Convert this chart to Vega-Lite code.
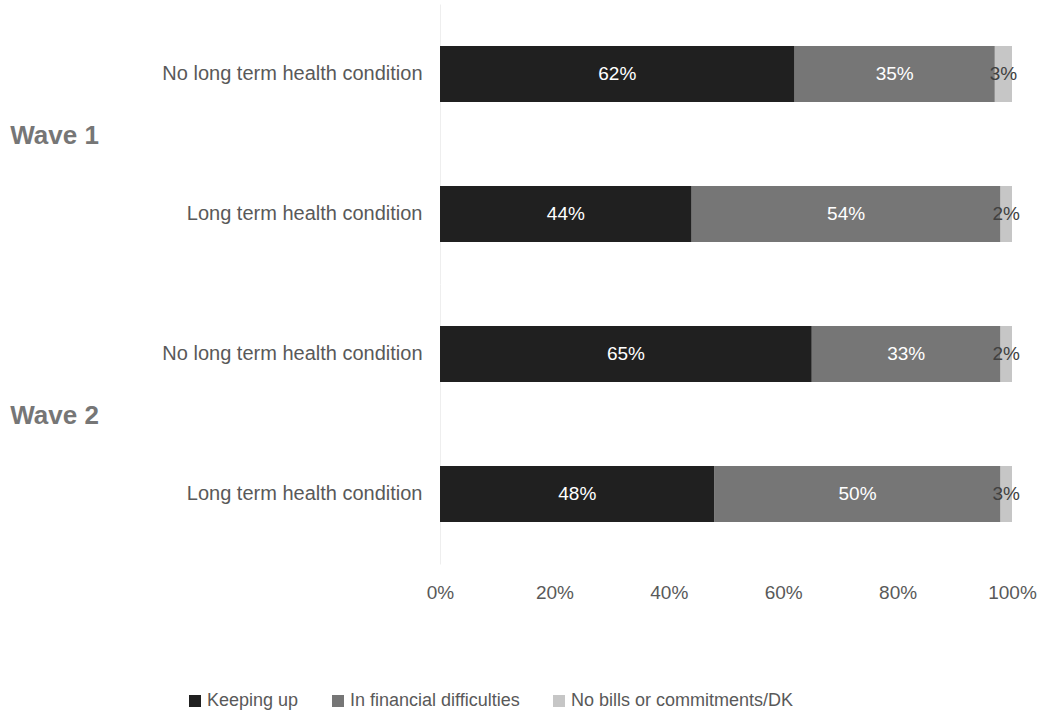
{
  "$schema": "https://vega.github.io/schema/vega-lite/v6.json",
  "padding": {"left": 10, "top": 4, "right": 4, "bottom": 4},
  "background": "white",
  "data": {
    "values": [
      {"wave": "Wave 1", "group": "No long term health condition", "cat": "Keeping up", "ord": 1, "v": 0.62, "label": "62%"},
      {"wave": "Wave 1", "group": "No long term health condition", "cat": "In financial difficulties", "ord": 2, "v": 0.35, "label": "35%"},
      {"wave": "Wave 1", "group": "No long term health condition", "cat": "No bills or commitments/DK", "ord": 3, "v": 0.03, "label": "3%"},
      {"wave": "Wave 1", "group": "Long term health condition", "cat": "Keeping up", "ord": 1, "v": 0.44, "label": "44%"},
      {"wave": "Wave 1", "group": "Long term health condition", "cat": "In financial difficulties", "ord": 2, "v": 0.54, "label": "54%"},
      {"wave": "Wave 1", "group": "Long term health condition", "cat": "No bills or commitments/DK", "ord": 3, "v": 0.02, "label": "2%"},
      {"wave": "Wave 2", "group": "No long term health condition", "cat": "Keeping up", "ord": 1, "v": 0.65, "label": "65%"},
      {"wave": "Wave 2", "group": "No long term health condition", "cat": "In financial difficulties", "ord": 2, "v": 0.33, "label": "33%"},
      {"wave": "Wave 2", "group": "No long term health condition", "cat": "No bills or commitments/DK", "ord": 3, "v": 0.02, "label": "2%"},
      {"wave": "Wave 2", "group": "Long term health condition", "cat": "Keeping up", "ord": 1, "v": 0.48, "label": "48%"},
      {"wave": "Wave 2", "group": "Long term health condition", "cat": "In financial difficulties", "ord": 2, "v": 0.50, "label": "50%"},
      {"wave": "Wave 2", "group": "Long term health condition", "cat": "No bills or commitments/DK", "ord": 3, "v": 0.02, "label": "3%"}
    ]
  },
  "facet": {
    "row": {
      "field": "wave",
      "type": "nominal",
      "title": null,
      "header": {
        "labelOrient": "left",
        "labelAngle": 0,
        "labelAlign": "left",
        "labelBaseline": "alphabetic",
        "labelPadding": 63,
        "labelFont": "Liberation Sans",
        "labelFontSize": 26,
        "labelFontWeight": "bold",
        "labelColor": "#767676",
        "labelLimit": 0
      }
    }
  },
  "spacing": {"row": 0},
  "spec": {
    "width": 572,
    "height": 280,
    "encoding": {
      "y": {
        "field": "group",
        "type": "nominal",
        "sort": ["No long term health condition", "Long term health condition"],
        "scale": {"paddingInner": 0.6, "paddingOuter": 0.3},
        "axis": {
          "title": null,
          "ticks": false,
          "domain": true,
          "domainColor": "#eeeeee",
          "domainWidth": 1,
          "labelPadding": 18,
          "labelFont": "Liberation Sans",
          "labelFontSize": 20,
          "labelColor": "#595959",
          "labelLimit": 0,
          "grid": false
        }
      }
    },
    "layer": [
      {
        "mark": {"type": "bar"},
        "encoding": {
          "x": {
            "field": "v",
            "type": "quantitative",
            "stack": "zero",
            "scale": {"domain": [0, 1], "nice": false},
            "axis": {
              "title": null,
              "values": [0, 0.2, 0.4, 0.6, 0.8, 1],
              "format": ".0%",
              "grid": false,
              "ticks": false,
              "domain": false,
              "labelPadding": 19,
              "labelFont": "Liberation Sans",
              "labelFontSize": 19,
              "labelColor": "#595959",
              "labelFlush": false
            }
          },
          "color": {
            "field": "cat",
            "type": "nominal",
            "scale": {
              "domain": ["Keeping up", "In financial difficulties", "No bills or commitments/DK"],
              "range": ["#202020", "#767676", "#c6c6c6"]
            },
            "legend": {
              "title": null,
              "orient": "none",
              "direction": "horizontal",
              "legendX": -254,
              "legendY": 688,
              "symbolType": "square",
              "symbolSize": 144,
              "symbolStrokeWidth": 0,
              "labelFont": "Liberation Sans",
              "labelFontSize": 18,
              "labelColor": "#595959",
              "labelLimit": 0,
              "labelOffset": 3,
              "columnPadding": 30
            }
          },
          "order": {"field": "ord", "type": "quantitative"}
        }
      },
      {
        "mark": {"type": "text", "font": "Liberation Sans", "fontSize": 19, "align": "center", "baseline": "middle"},
        "encoding": {
          "x": {"field": "v", "type": "quantitative", "stack": "zero", "bandPosition": 0.5},
          "text": {"field": "label", "type": "nominal"},
          "detail": {"field": "cat", "type": "nominal"},
          "order": {"field": "ord", "type": "quantitative"},
          "color": {
            "condition": {"test": "datum.cat === 'No bills or commitments/DK'", "value": "#404040"},
            "value": "#ffffff"
          }
        }
      }
    ]
  },
  "config": {
    "view": {"stroke": null},
    "font": "Liberation Sans"
  }
}
